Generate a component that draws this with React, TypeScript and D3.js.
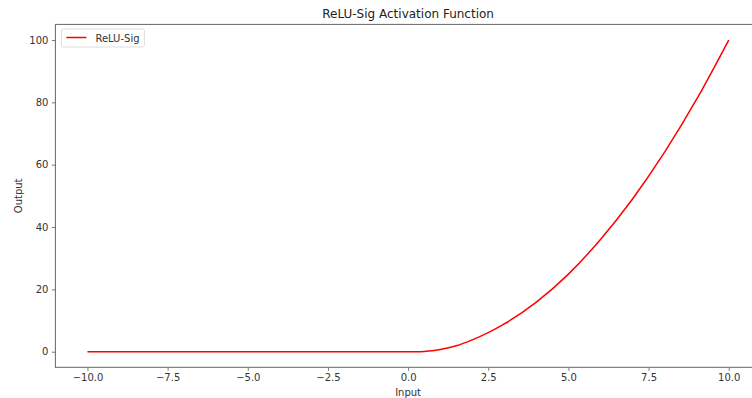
import React, { useEffect, useRef } from "react";
import * as d3 from "d3";

// values
const inputs = [-10, -7.5, -5, -2.5, 0, 0.25, 0.5, 0.75, 1, 1.5, 2, 2.5, 3, 4, 5, 6, 7, 8, 9, 10];
const outputs = [0, 0, 0, 0, 0, 0.02, 0.1, 0.3, 0.7, 1.9, 3.8, 6.1, 8.9, 15.9, 24.9, 36, 49, 64, 81, 100];
const xTicks = [-10, -7.5, -5, -2.5, 0, 2.5, 5, 7.5, 10];
const yTicks = [0, 20, 40, 60, 80, 100];

const W = 752;
const H = 398;
const margin = { top: 24.4, right: -8.8, bottom: 30.7, left: 55.4 };
const FONT = "DejaVu Sans, sans-serif";

export default function App() {
  const ref = useRef<SVGSVGElement>(null);

  useEffect(() => {
    const svg = d3.select(ref.current);
    svg.selectAll("*").remove();

    const x = d3.scaleLinear().domain([-11, 11]).range([margin.left, W - margin.right]);
    const y = d3.scaleLinear().domain([-5, 105]).range([H - margin.bottom, margin.top]);

    const data = inputs.map((d, i) => [d, outputs[i]] as [number, number]);

    const line = d3
      .line<[number, number]>()
      .x((d) => x(d[0]))
      .y((d) => y(d[1]))
      .curve(d3.curveMonotoneX);

    svg
      .append("path")
      .datum(data)
      .attr("d", line)
      .attr("fill", "none")
      .attr("stroke", "red")
      .attr("stroke-width", 1.5)
      .attr("stroke-linejoin", "round");

    const fmt = (v: number) => v.toFixed(1).replace("-", "\u2212");

    const xAxis = svg
      .append("g")
      .attr("transform", `translate(0,${H - margin.bottom})`)
      .call(d3.axisBottom(x).tickValues(xTicks).tickFormat((d) => fmt(d as number)).tickSize(3.5).tickPadding(3.5));

    const yAxis = svg
      .append("g")
      .attr("transform", `translate(${margin.left},0)`)
      .call(d3.axisLeft(y).tickValues(yTicks).tickFormat((d) => String(d)).tickSize(3.5).tickPadding(3.5));

    [xAxis, yAxis].forEach((g) => {
      g.select(".domain").remove();
      g.selectAll("line").attr("stroke", "#555").attr("stroke-width", 0.8);
      g.selectAll("text").attr("font-family", FONT).attr("font-size", 10).attr("fill", "#333");
    });

    // spines
    svg
      .append("rect")
      .attr("x", margin.left)
      .attr("y", margin.top)
      .attr("width", W - margin.right - margin.left)
      .attr("height", H - margin.bottom - margin.top)
      .attr("fill", "none")
      .attr("stroke", "#666")
      .attr("stroke-width", 1);

    svg
      .append("text")
      .attr("x", x(0))
      .attr("y", 18)
      .attr("text-anchor", "middle")
      .attr("font-family", FONT)
      .attr("font-size", 12)
      .attr("fill", "#222")
      .text("ReLU-Sig Activation Function");

    svg
      .append("text")
      .attr("x", x(0))
      .attr("y", 396)
      .attr("text-anchor", "middle")
      .attr("font-family", FONT)
      .attr("font-size", 10)
      .attr("fill", "#333")
      .text("Input");

    svg
      .append("text")
      .attr("transform", `translate(22,${y(50)}) rotate(-90)`)
      .attr("text-anchor", "middle")
      .attr("font-family", FONT)
      .attr("font-size", 10)
      .attr("fill", "#333")
      .text("Output");

    // legend
    const lg = svg.append("g").attr("transform", `translate(${margin.left + 6},29)`);
    lg.append("rect")
      .attr("width", 83)
      .attr("height", 18)
      .attr("rx", 2)
      .attr("fill", "white")
      .attr("stroke", "#ddd")
      .attr("stroke-width", 1);
    lg.append("line")
      .attr("x1", 5)
      .attr("x2", 25)
      .attr("y1", 8.5)
      .attr("y2", 8.5)
      .attr("stroke", "red")
      .attr("stroke-width", 1.5);
    lg.append("text")
      .attr("x", 34)
      .attr("y", 12.5)
      .attr("font-family", FONT)
      .attr("font-size", 10)
      .attr("fill", "#333")
      .text("ReLU-Sig");
  }, []);

  return (
    <svg
      ref={ref}
      width={W}
      height={H}
      style={{ position: "absolute", left: 0, top: 0, background: "white" }}
    />
  );
}
